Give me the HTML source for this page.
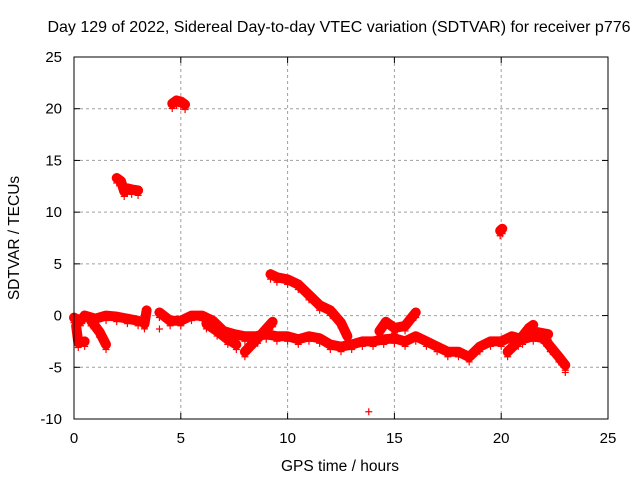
<!DOCTYPE html>
<html><head><meta charset="utf-8"><style>
html,body{margin:0;padding:0;background:#fff;}
svg{display:block;font-family:"Liberation Sans",sans-serif;}
</style></head><body>
<svg id="chart" width="640" height="480">
<text x="339" y="32" text-anchor="middle" font-size="16">Day 129 of 2022, Sidereal Day-to-day VTEC variation (SDTVAR) for receiver p776</text>
<text x="340" y="471" text-anchor="middle" font-size="15.5">GPS time / hours</text>
<text transform="translate(19,238) rotate(-90)" text-anchor="middle" font-size="15.5">SDTVAR / TECUs</text>
<g id="grid"></g>
<g id="axes"></g>
<g id="marks"></g>
<rect x="74" y="57" width="534" height="362" fill="none" stroke="#000" stroke-width="1"/>
</svg>
<script>
const xTicks=[0,5,10,15,20,25];
const yTicks=[-10,-5,0,5,10,15,20,25];
const trackMorning=[[0,-0.2],[0.3,-0.5],[0.5,0],[1,-0.3],[1.5,0],[2,-0.1],[2.5,-0.3],[3,-0.5]];
const trackEarlyLow=[[0.1,-1],[0.2,-2.6],[0.5,-2.5]];
const trackDiag=[[0.8,-0.5],[1.2,-1.6],[1.5,-2.8]];
const trackBlip=[[3.3,-0.8],[3.4,0.5]];
const trackMain=[[4,0.3],[4.5,-0.5],[5,-0.5],[5.5,0],[6,0],[6.5,-0.5],[7,-1.5],[7.5,-1.8],[8,-2],[8.5,-2],[9,-1.8],[9.5,-2],[10,-2],[10.5,-2.3],[11,-2],[11.5,-2.2],[12,-2.8],[12.5,-3],[13,-2.8],[13.5,-2.5],[14,-2.5],[14.5,-2.3],[15,-2.2],[15.5,-2.5],[16,-2],[16.5,-2.5],[17,-3],[17.5,-3.5],[18,-3.5],[18.5,-4],[19,-3],[19.5,-2.5],[20,-2.5],[20.5,-2],[21,-2.3],[21.5,-2],[22,-2.2],[22.3,-3],[22.7,-4],[23,-4.8]];
const trackLowBranch=[[6.2,-0.8],[6.7,-1.5],[7.2,-2.3],[7.6,-2.8]];
const trackRise=[[8,-3.5],[8.6,-2.2],[9.3,-0.6]];
const trackArc=[[9.2,4],[9.5,3.7],[10,3.5],[10.5,3],[11,2],[11.5,1],[12,0.5],[12.5,-0.7],[12.8,-2]];
const trackBand15=[[14.3,-1.5],[14.6,-0.6],[15,-1.2],[15.5,-1],[16,0.3]];
const trackBand21=[[20.3,-3.5],[20.8,-2.5],[21.3,-1.2],[21.5,-0.9]];
const trackLower22=[[21.7,-1.6],[22.2,-1.8]];
const trackHigh2=[[2,13.3],[2.2,13],[2.35,12],[2.5,12.3],[2.7,12.2],[3,12.1]];
const trackHigh5=[[4.6,20.5],[4.8,20.8],[5,20.7],[5.2,20.4]];
const trackPoint20=[[19.95,8.2],[20.05,8.4]];
const singles=[[13.8,-9.3],[4,-1.3],[23,-5.5]];
const tracks=[trackMorning,trackEarlyLow,trackDiag,trackBlip,trackMain,trackLowBranch,trackRise,trackArc,trackBand15,trackBand21,trackLower22,trackHigh2,trackHigh5,trackPoint20];

const X0=74,X1=608,Y0=419,Y1=57;
function sx(v){return X0+(v-0)/(25-0)*(X1-X0);}
function sy(v){return Y0-(v+10)/(35)*(Y0-Y1);}
const NS="http://www.w3.org/2000/svg";
const grid=document.getElementById('grid'),axes=document.getElementById('axes'),marks=document.getElementById('marks');
function mk(t,a,p){const e=document.createElementNS(NS,t);for(const k in a)e.setAttribute(k,a[k]);p.appendChild(e);return e;}
xTicks.forEach(v=>{
  const x=sx(v);
  if(v>0&&v<25){const g=mk('line',{x1:x,x2:x,y1:Y1,y2:Y0,stroke:'#a0a0a0','stroke-dasharray':'3,3'},grid);
  
  }
  mk('line',{x1:x,x2:x,y1:Y0,y2:Y0-6,stroke:'#000'},axes);
  mk('line',{x1:x,x2:x,y1:Y1,y2:Y1+6,stroke:'#000'},axes);
  const t=mk('text',{x:x,y:443,'text-anchor':'middle','font-size':'15'},axes);t.textContent=v;
  
  
});
yTicks.forEach(v=>{
  const y=sy(v);
  if(v>-10&&v<25){const g=mk('line',{x1:X0,x2:X1,y1:y,y2:y,stroke:'#a0a0a0','stroke-dasharray':'3,3'},grid);
  
  }
  mk('line',{x1:X0,x2:X0+6,y1:y,y2:y,stroke:'#000'},axes);
  mk('line',{x1:X1,x2:X1-6,y1:y,y2:y,stroke:'#000'},axes);
  const t=mk('text',{x:62,y:y+5,'text-anchor':'end','font-size':'15'},axes);t.textContent=v;
  
  
});
function plus(x,y){
  const p=mk('path',{d:`M${x-3.5} ${y}H${x+3.5}M${x} ${y-3.5}V${y+3.5}`,stroke:'#f00','stroke-width':'1.2',fill:'none'},marks);
  
  
}
tracks.forEach(tr=>{
  const pl=mk('polyline',{points:tr.map(p=>sx(p[0])+','+sy(p[1])).join(' '),fill:'none',stroke:'#f00','stroke-width':'10','stroke-linejoin':'round','stroke-linecap':'round'},marks);
  
  
  tr.forEach(p=>plus(sx(p[0]),sy(p[1])+5));
});
singles.forEach(p=>plus(sx(p[0]),sy(p[1])));
</script>
</body></html>
